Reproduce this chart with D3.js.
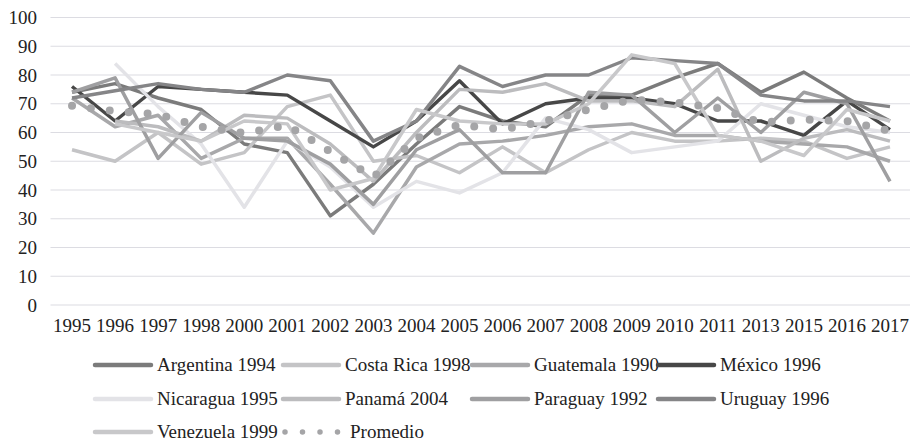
<!DOCTYPE html>
<html>
<head>
<meta charset="utf-8">
<script src="https://cdn.jsdelivr.net/npm/d3@7"></script>
<style>
  body { margin: 0; background: #fff; }
</style>
</head>
<body>
<svg id="chart" width="910" height="443"></svg>
<script>
const years = ['1995', '1996', '1997', '1998', '2000', '2001', '2002', '2003', '2004', '2005',
  '2006', '2007', '2008', '2009', '2010', '2011', '2013', '2015', '2016', '2017']
const yTicks = [0, 10, 20, 30, 40, 50, 60, 70, 80, 90, 100]

const argentina = [74, 77, 72, 68, 56, 53, 31, 42, 56, 69, 64, 62, 73, 73, 79, 84, 74, 81, 72, 64]
const costaRica = [54, 50, 60, 49, 53, 69, 73, 50, 52, 46, 55, 46, 54, 60, 57, 57, 58, 57, 51, 55]
const guatemala = [72, 62, 66, 51, 58, 58, 42, 25, 48, 56, 57, 59, 62, 63, 59, 59, 57, 56, 55, 50]
const mexico = [76, 64, 76, 75, 74, 73, 64, 55, 64, 78, 63, 70, 72, 72, 70, 64, 64, 59, 71, 61]
const nicaragua = [null, 84, 69, 56, 34, 57, 48, 34, 43, 39, 46, 65, 61, 53, 55, 57, 70, 66, 62, 60]
const panama = [null, 64, 62, 57, 66, 65, 56, 43, 60, 75, 74, 77, 71, 71, 69, 82, 50, 58, 61, 57]
const paraguay = [74, 79, 51, 67, 58, 57, 49, 35, 54, 61, 46, 46, 74, 73, 60, 72, 60, 74, 70, 43]
const uruguay = [72, 74.5, 77, 75, 74, 80, 78, 57, 64, 83, 76, 80, 80, 86, 85, 84, 73, 71, 71, 69]
const venezuela = [null, 63, 60, 57, 64, 63, 40, 44, 68, 64, 63, 63, 70, 87, 84, 59, 57, 52, 68, 64]
const promedio = [69.3, 67.4, 66.3, 62, 59.8, 62.5, 53.4, 44.5, 58, 62.7, 61, 64, 68, 71.4, 70.5, 68.5, 63.5, 64.5, 64, 60.5]

const series = [
  { name: 'Argentina 1994', values: argentina, color: '#7b7b7b' },
  { name: 'Costa Rica 1998', values: costaRica, color: '#c4c4c6' },
  { name: 'Guatemala 1990', values: guatemala, color: '#a8a8aa' },
  { name: 'México 1996', values: mexico, color: '#474747' },
  { name: 'Nicaragua 1995', values: nicaragua, color: '#e3e3e7' },
  { name: 'Panamá 2004', values: panama, color: '#bcbcbe' },
  { name: 'Paraguay 1992', values: paraguay, color: '#9f9fa1' },
  { name: 'Uruguay 1996', values: uruguay, color: '#858587' },
  { name: 'Venezuela 1999', values: venezuela, color: '#c8c8ca' },
  { name: 'Promedio', values: promedio, color: '#a5a5a7', dotted: true }
]

// fuente con serifa (la del original parece Garamond)
const FONT = "'Liberation Serif', 'Times New Roman', Tinos, 'Noto Serif', 'DejaVu Serif', FreeSerif, serif"

const svg = d3.select('#chart')
const x = d3.scaleBand().domain(years).range([50.5, 911.5])
const y = d3.scaleLinear().domain([0, 100]).range([305, 17.5])

// rejilla
svg.append('g')
  .selectAll('line').data(yTicks).enter().append('line')
  .attr('x1', 50.5).attr('x2', 910)
  .attr('y1', d => y(d)).attr('y2', d => y(d))
  .attr('stroke', '#dcdce2')
  .attr('stroke-width', 1.2)

// ejes
const yAxis = svg.append('g')
  .attr('transform', 'translate(37,0)')
  .call(d3.axisLeft(y).tickValues(yTicks).tickSize(0).tickPadding(0))
  .attr('font-family', FONT)
  .attr('font-size', 19)
yAxis.select('.domain').remove()
yAxis.selectAll('text').attr('fill', '#222')

const xAxis = svg.append('g')
  .attr('transform', 'translate(0,318)')
  .call(d3.axisBottom(x).tickSize(0).tickPadding(0))
  .attr('font-family', FONT)
  .attr('font-size', 19)
xAxis.select('.domain').remove()
xAxis.selectAll('text').attr('fill', '#222')

// lineas
const line = d3.line()
  .defined(d => d.v !== null)
  .x(d => x(d.year) + x.bandwidth() / 2)
  .y(d => y(d.v))

const linesG = svg.append('g')
series.forEach(s => {
  const pts = years.map((year, i) => ({ year, v: s.values[i] }))
  const p = linesG.append('path')
    .datum(pts)
    .attr('d', line)
    .attr('fill', 'none')
    .attr('stroke', s.color)
    .attr('stroke-linejoin', 'round')
  if (s.dotted) {
    p.attr('stroke-width', 8)
      .attr('stroke-linecap', 'round')
      .attr('stroke-dasharray', '0 19')
  } else {
    p.attr('stroke-width', 3.5)
      .attr('stroke-linecap', 'butt')
  }
})

// leyenda
const legendX = [95, 283, 472, 658]
const legendY = [365, 399, 432]
const legend = svg.append('g')
  .attr('font-family', FONT)
  .attr('font-size', 19)
series.forEach((s, i) => {
  const gx = legendX[i % 4]
  const gy = legendY[Math.floor(i / 4)]
  const g = legend.append('g').attr('transform', `translate(${gx},${gy})`)
  const sw = g.append('line')
    .attr('x1', 0).attr('x2', 56)
    .attr('y1', 0).attr('y2', 0)
    .attr('stroke', s.color)
    .attr('stroke-linecap', 'round')
  if (s.dotted) {
    sw.attr('x1', 2).attr('stroke-width', 5.5).attr('stroke-dasharray', '0 17.5')
  } else {
    sw.attr('stroke-width', 4.5)
  }
  g.append('text')
    .attr('x', s.dotted ? 67 : 62)
    .attr('y', 0)
    .attr('dy', '0.33em')
    .attr('fill', '#222')
    .text(s.name)
})
</script>
</body>
</html>
